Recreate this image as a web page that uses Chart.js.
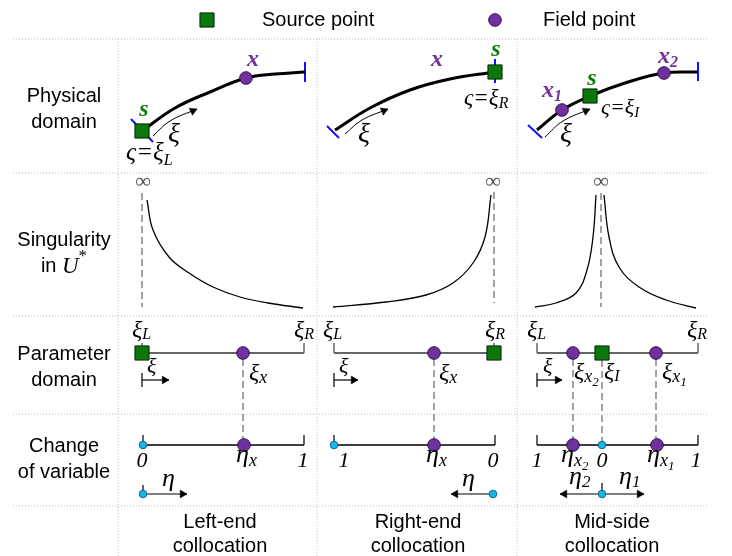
<!DOCTYPE html>
<html>
<head>
<meta charset="utf-8">
<script src="https://cdn.jsdelivr.net/npm/chart.js@4.4.4/dist/chart.umd.min.js"></script>
<style>
  html, body { margin: 0; padding: 0; background: #fff; overflow: hidden; }
  canvas { display: block; }
</style>
</head>
<body>
<canvas id="diagram" width="732" height="556"></canvas>
<script>
// Figure is laid out on a pixel-like grid: x to the right, y downwards.
const W = 732, H = 556;

// table frame
const rowLines = [39, 173, 316, 414, 506];
const colLines = [118, 317, 517];
const rowNames = [['Physical', 'domain'], ['Singularity', 'in U*'], ['Parameter', 'domain'], ['Change', 'of variable']];
const rowNameY = [[96, 122], [240, 266], [354, 380], [446, 472]];
const caseNames = [['Left-end', 'collocation'], ['Right-end', 'collocation'], ['Mid-side', 'collocation']];
const caseX = [220, 418, 612];
const legendNames = ['Source point', 'Field point'];
const legendSource = [[207, 20]];
const legendField = [[495, 20]];

// physical domain: boundary arcs, end ticks and the xi direction arrows
const arcLeft = [[142, 131], [175, 108], [210, 92], [246, 78], [275, 74], [305, 72]];
const arcRight = [[335, 130], [370, 108], [410, 90], [450, 79], [495, 72]];
const arcMid = [[537, 130], [562, 110], [590, 96], [625, 83], [664, 73], [698, 72]];
const sourcePhys = [[142, 131], [495, 72], [590, 96]];
const fieldPhys = [[246, 78], [562, 110], [664, 73]];
const endTicks = [
  [[131, 119], [153, 142]], [[305, 62], [305, 82]],
  [[327, 126], [339, 138]], [[495, 59], [495, 83]],
  [[528, 125], [542, 138]], [[698, 62], [698, 81]]
];
const xiArrows = [
  [[153, 136], [170, 121], [197, 109]],
  [[345, 134], [362, 120], [388, 109]],
  [[545, 137], [563, 121], [590, 109]]
];

// singularity of U* along each element
const singLeft = [[147, 200], [153, 230], [169, 257], [189, 273], [213, 287], [240, 297], [268, 303], [303, 308]];
const singRight = [[333, 307], [386, 302], [426, 295], [453, 283], [473, 263], [485, 237], [491, 195]];
const singMidL = [[535, 307], [556, 303], [576, 293], [587, 270], [593, 237], [596, 195]];
const singMidR = [[604, 195], [609, 237], [619, 267], [639, 287], [666, 300], [696, 308]];
const asymptotes = [[[142, 193], [142, 307]], [[494, 192], [494, 303]], [[601, 193], [601, 307]]];

// parameter domain
const paramLines = [[[142, 353], [304, 353]], [[334, 353], [494, 353]], [[537, 353], [698, 353]]];
const paramTicks = [[[142, 343], [142, 353]], [[304, 343], [304, 353]], [[334, 343], [334, 353]],
  [[494, 343], [494, 353]], [[537, 343], [537, 353]], [[698, 343], [698, 353]]];
const sourceParam = [[142, 353], [494, 353], [602, 353]];
const fieldParam = [[243, 353], [434, 353], [573, 353], [656, 353]];
const paramArrows = [[[142, 380], [169, 380]], [[334, 380], [358, 380]], [[537, 380], [562, 380]]];
const paramArrowTicks = [[[142, 373], [142, 387]], [[334, 373], [334, 387]], [[537, 373], [537, 387]]];

// change of variable
const etaLines = [[[143, 445], [304, 445]], [[334, 445], [495, 445]], [[537, 445], [698, 445]]];
const etaTicks = [[[143, 435], [143, 445]], [[304, 435], [304, 445]], [[334, 435], [334, 445]],
  [[495, 435], [495, 445]], [[537, 435], [537, 445]], [[698, 435], [698, 445]], [[143, 485], [143, 494]], [[602, 483], [602, 494]]];
const etaOrigins = [[143, 445], [334, 445], [602, 445], [143, 494], [493, 494], [602, 494]];
const etaField = [[244, 445], [434, 445], [573, 445], [657, 445]];
const etaArrows = [[[143, 494], [187, 494]], [[493, 494], [451, 494]], [[602, 494], [560, 494]], [[602, 494], [644, 494]]];

// dashed links between rows
const links = [
  [[243, 359], [243, 439]], [[434, 359], [434, 439]],
  [[573, 359], [573, 439]], [[602, 360], [602, 441]], [[656, 359], [656, 439]]
];

const GREEN = '#0c7c0c', PURPLE = '#7030a0';
const SANS = '"Liberation Sans", Arial, sans-serif';
const SERIF = '"Liberation Serif", "Times New Roman", serif';

// math labels: main text, subscripts, baseline position
const mathLabels = [
  { t: 's', x: 144, y: 116, size: 24, color: GREEN, bold: true, align: 'center' },
  { t: 'x', x: 253, y: 66, size: 24, color: PURPLE, bold: true, align: 'center' },
  { t: 'ξ', x: 174, y: 142, size: 28, align: 'center' },
  { t: 'ς=ξ', sub: 'L', x: 126, y: 160, size: 25, subDy: 5, subSize: 16 },
  { t: 'x', x: 437, y: 66, size: 24, color: PURPLE, bold: true, align: 'center' },
  { t: 's', x: 496, y: 56, size: 24, color: GREEN, bold: true, align: 'center' },
  { t: 'ξ', x: 364, y: 142, size: 28, align: 'center' },
  { t: 'ς=ξ', sub: 'R', x: 464, y: 105, size: 23, subDy: 3, subSize: 16 },
  { t: 'x', sub: '1', x: 542, y: 97, size: 24, color: PURPLE, bold: true, subDy: 4 },
  { t: 's', x: 592, y: 85, size: 24, color: GREEN, bold: true, align: 'center' },
  { t: 'x', sub: '2', x: 658, y: 63, size: 24, color: PURPLE, bold: true, subDy: 4 },
  { t: 'ς=ξ', sub: 'I', x: 601, y: 114, size: 22, subDy: 3, subSize: 15 },
  { t: 'ξ', x: 566, y: 142, size: 28, align: 'center' },

  { t: '∞', x: 143, y: 188, size: 22, color: '#555', upright: true, align: 'center' },
  { t: '∞', x: 493, y: 188, size: 22, color: '#555', upright: true, align: 'center' },
  { t: '∞', x: 601, y: 188, size: 22, color: '#555', upright: true, align: 'center' },

  { t: 'ξ', sub: 'L', x: 132, y: 337, size: 24, subDy: 2, subSize: 16 },
  { t: 'ξ', sub: 'R', x: 294, y: 337, size: 24, subDy: 2, subSize: 16 },
  { t: 'ξ', sub: 'x', x: 249, y: 380, size: 24, subDy: 3, subSize: 18 },
  { t: 'ξ', x: 147, y: 373, size: 22 },
  { t: 'ξ', sub: 'L', x: 323, y: 337, size: 24, subDy: 2, subSize: 16 },
  { t: 'ξ', sub: 'R', x: 485, y: 337, size: 24, subDy: 2, subSize: 16 },
  { t: 'ξ', sub: 'x', x: 439, y: 380, size: 24, subDy: 3, subSize: 18 },
  { t: 'ξ', x: 339, y: 373, size: 22 },
  { t: 'ξ', sub: 'L', x: 527, y: 337, size: 24, subDy: 2, subSize: 16 },
  { t: 'ξ', sub: 'R', x: 687, y: 337, size: 24, subDy: 2, subSize: 16 },
  { t: 'ξ', sub: 'x', sub2: '2', x: 574, y: 379, size: 24, subDy: 3, subSize: 18 },
  { t: 'ξ', sub: 'I', x: 604, y: 379, size: 24, subDy: 2, subSize: 16 },
  { t: 'ξ', sub: 'x', sub2: '1', x: 662, y: 379, size: 24, subDy: 3, subSize: 18 },
  { t: 'ξ', x: 543, y: 373, size: 22 },

  { t: '0', x: 142, y: 467, size: 22, align: 'center' },
  { t: 'η', sub: 'x', x: 236, y: 462, size: 26, subDy: 4, subSize: 18 },
  { t: '1', x: 303, y: 467, size: 22, align: 'center' },
  { t: 'η', x: 162, y: 486, size: 26 },
  { t: '1', x: 344, y: 467, size: 22, align: 'center' },
  { t: 'η', sub: 'x', x: 426, y: 462, size: 26, subDy: 4, subSize: 18 },
  { t: '0', x: 493, y: 467, size: 22, align: 'center' },
  { t: 'η', x: 462, y: 486, size: 26 },
  { t: '1', x: 537, y: 467, size: 22, align: 'center' },
  { t: 'η', sub: 'x', sub2: '2', x: 561, y: 462, size: 26, subDy: 4, subSize: 18 },
  { t: '0', x: 602, y: 467, size: 22, align: 'center' },
  { t: 'η', sub: 'x', sub2: '1', x: 647, y: 462, size: 26, subDy: 4, subSize: 18 },
  { t: '1', x: 696, y: 467, size: 22, align: 'center' },
  { t: 'η', sub: '2', x: 569, y: 484, size: 26, subDy: 3, subSize: 17 },
  { t: 'η', sub: '1', x: 619, y: 484, size: 26, subDy: 3, subSize: 17 }
];

// ---- datasets ----
const datasets = [];
const pts = a => a.map(([x, y]) => ({ x, y }));
const GRID = { borderColor: '#bdbdbd', borderWidth: 1, borderDash: [1, 2], order: 10 };
const DASH = { borderColor: '#666', borderWidth: 1.2, borderDash: [7, 4], order: 6 };

function addLine(points, style) {
  datasets.push(Object.assign({
    data: pts(points), showLine: true, borderColor: '#000', borderWidth: 1,
    pointRadius: 0, pointHoverRadius: 0, tension: 0, fill: false, order: 5
  }, style));
}
function addMarks(points, style) {
  datasets.push(Object.assign({ data: pts(points), showLine: false, borderWidth: 1, order: 0 }, style));
}

const heads = [];
function addArrow(points, style) {
  addLine(points, Object.assign({ tension: 0.4 }, style));
  const [x1, y1] = points[points.length - 2];
  const [x2, y2] = points[points.length - 1];
  heads.push({ tip: [x2, y2], ang: Math.atan2(x2 - x1, -(y2 - y1)) });
}

rowLines.forEach(y => addLine([[13, y], [708, y]], GRID));
colLines.forEach(x => addLine([[x, 39], [x, H]], GRID));

[arcLeft, arcRight, arcMid].forEach(a => addLine(a, { borderWidth: 3, tension: 0.4 }));
endTicks.forEach(t => addLine(t, { borderColor: '#1010ff', borderWidth: 2 }));
xiArrows.forEach(a => addArrow(a, { borderWidth: 1 }));

[singLeft, singRight, singMidL, singMidR].forEach(a => addLine(a, { borderWidth: 1.3, tension: 0.4 }));
asymptotes.forEach(a => addLine(a, DASH));

paramLines.forEach(l => addLine(l, { borderColor: '#666', borderWidth: 2 }));
paramTicks.forEach(l => addLine(l, { borderColor: '#666', borderWidth: 1.5 }));
paramArrowTicks.forEach(l => addLine(l, { borderWidth: 1.2 }));
paramArrows.forEach(a => addArrow(a, { borderWidth: 1.2 }));

etaLines.forEach(l => addLine(l, { borderWidth: 1.3 }));
etaTicks.forEach(l => addLine(l, { borderWidth: 1.2 }));
etaArrows.forEach(a => addArrow(a, { borderWidth: 1.2 }));
links.forEach(l => addLine(l, DASH));

// arrow heads: triangle apex placed on the arrow tip
const HEAD_R = 4.5;
addMarks(heads.map(h => [h.tip[0] - HEAD_R * Math.sin(h.ang), h.tip[1] + HEAD_R * Math.cos(h.ang)]), {
  pointStyle: 'triangle', pointRadius: HEAD_R, pointRotation: heads.map(h => h.ang * 180 / Math.PI),
  backgroundColor: '#000', borderColor: '#000', borderWidth: 0.5
});

const SOURCE = { pointStyle: 'rect', pointRadius: 10, backgroundColor: '#0a780a', borderColor: '#062806', borderWidth: 1 };
const FIELD = { pointStyle: 'circle', pointRadius: 6.3, backgroundColor: '#7030a0', borderColor: '#2c0f45', borderWidth: 1 };
addMarks(legendSource.concat(sourcePhys, sourceParam), SOURCE);
addMarks(legendField.concat(fieldPhys, fieldParam, etaField), FIELD);
addMarks(etaOrigins, { pointStyle: 'circle', pointRadius: 3.8, backgroundColor: '#10b8f0', borderColor: '#1f5f80', borderWidth: 1 });

// ---- text ----
function drawRuns(ctx, x, y, runs, align) {
  let w = 0;
  runs.forEach(r => { ctx.font = r.font; r.w = ctx.measureText(r.t).width; w += r.w; });
  let cx = align === 'center' ? x - w / 2 : x;
  runs.forEach(r => {
    ctx.font = r.font;
    ctx.fillStyle = r.color;
    ctx.fillText(r.t, cx, y + (r.dy || 0));
    cx += r.w;
  });
}

function mathRuns(lab) {
  const st = (lab.upright ? '' : 'italic ') + (lab.bold ? 'bold ' : '');
  const color = lab.color || '#000';
  const subDy = lab.subDy != null ? lab.subDy : Math.round(lab.size * 0.2);
  const subSize = lab.subSize || Math.round(lab.size * 0.66);
  const runs = [{ t: lab.t, font: st + lab.size + 'px ' + SERIF, color }];
  if (lab.sub) runs.push({ t: lab.sub, font: st + subSize + 'px ' + SERIF, color, dy: subDy });
  if (lab.sub2) runs.push({ t: lab.sub2, font: st + Math.round(subSize * 0.72) + 'px ' + SERIF, color, dy: subDy + 4 });
  return runs;
}

const textPlugin = {
  id: 'figureText',
  afterDatasetsDraw(chart) {
    const { ctx } = chart;
    const sx = chart.scales.x, sy = chart.scales.y;
    const px = v => sx.getPixelForValue(v), py = v => sy.getPixelForValue(v);
    ctx.save();
    ctx.textBaseline = 'middle';
    ctx.textAlign = 'left';
    const sans = '20px ' + SANS;

    // legend
    drawRuns(ctx, px(262), py(20), [{ t: legendNames[0], font: sans, color: '#000' }], 'left');
    drawRuns(ctx, px(543), py(20), [{ t: legendNames[1], font: sans, color: '#000' }], 'left');

    // row names
    rowNames.forEach((lines, i) => {
      lines.forEach((line, j) => {
        const y = py(rowNameY[i][j]);
        if (line === 'in U*') {
          drawRuns(ctx, px(64), y, [
            { t: 'in ', font: sans, color: '#000' },
            { t: 'U', font: 'italic 23px ' + SERIF, color: '#000', dy: 1 },
            { t: '*', font: '17px ' + SERIF, color: '#000', dy: -9 }
          ], 'center');
        } else {
          drawRuns(ctx, px(64), y, [{ t: line, font: sans, color: '#000' }], 'center');
        }
      });
    });

    // case names
    caseNames.forEach((lines, i) => {
      lines.forEach((line, j) => {
        drawRuns(ctx, px(caseX[i]), py(522 + j * 24), [{ t: line, font: sans, color: '#000' }], 'center');
      });
    });

    // math
    ctx.textBaseline = 'alphabetic';
    mathLabels.forEach(lab => drawRuns(ctx, px(lab.x), py(lab.y), mathRuns(lab), lab.align || 'left'));
    ctx.restore();
  }
};

new Chart(document.getElementById('diagram'), {
  type: 'scatter',
  data: { datasets },
  options: {
    responsive: false,
    animation: false,
    devicePixelRatio: 1,
    events: [],
    layout: { padding: 0, autoPadding: false },
    scales: {
      x: { type: 'linear', min: 0, max: W, display: false },
      y: { type: 'linear', min: 0, max: H, reverse: true, display: false }
    },
    plugins: { legend: { display: false }, tooltip: { enabled: false } }
  },
  plugins: [textPlugin]
});
</script>
</body>
</html>
